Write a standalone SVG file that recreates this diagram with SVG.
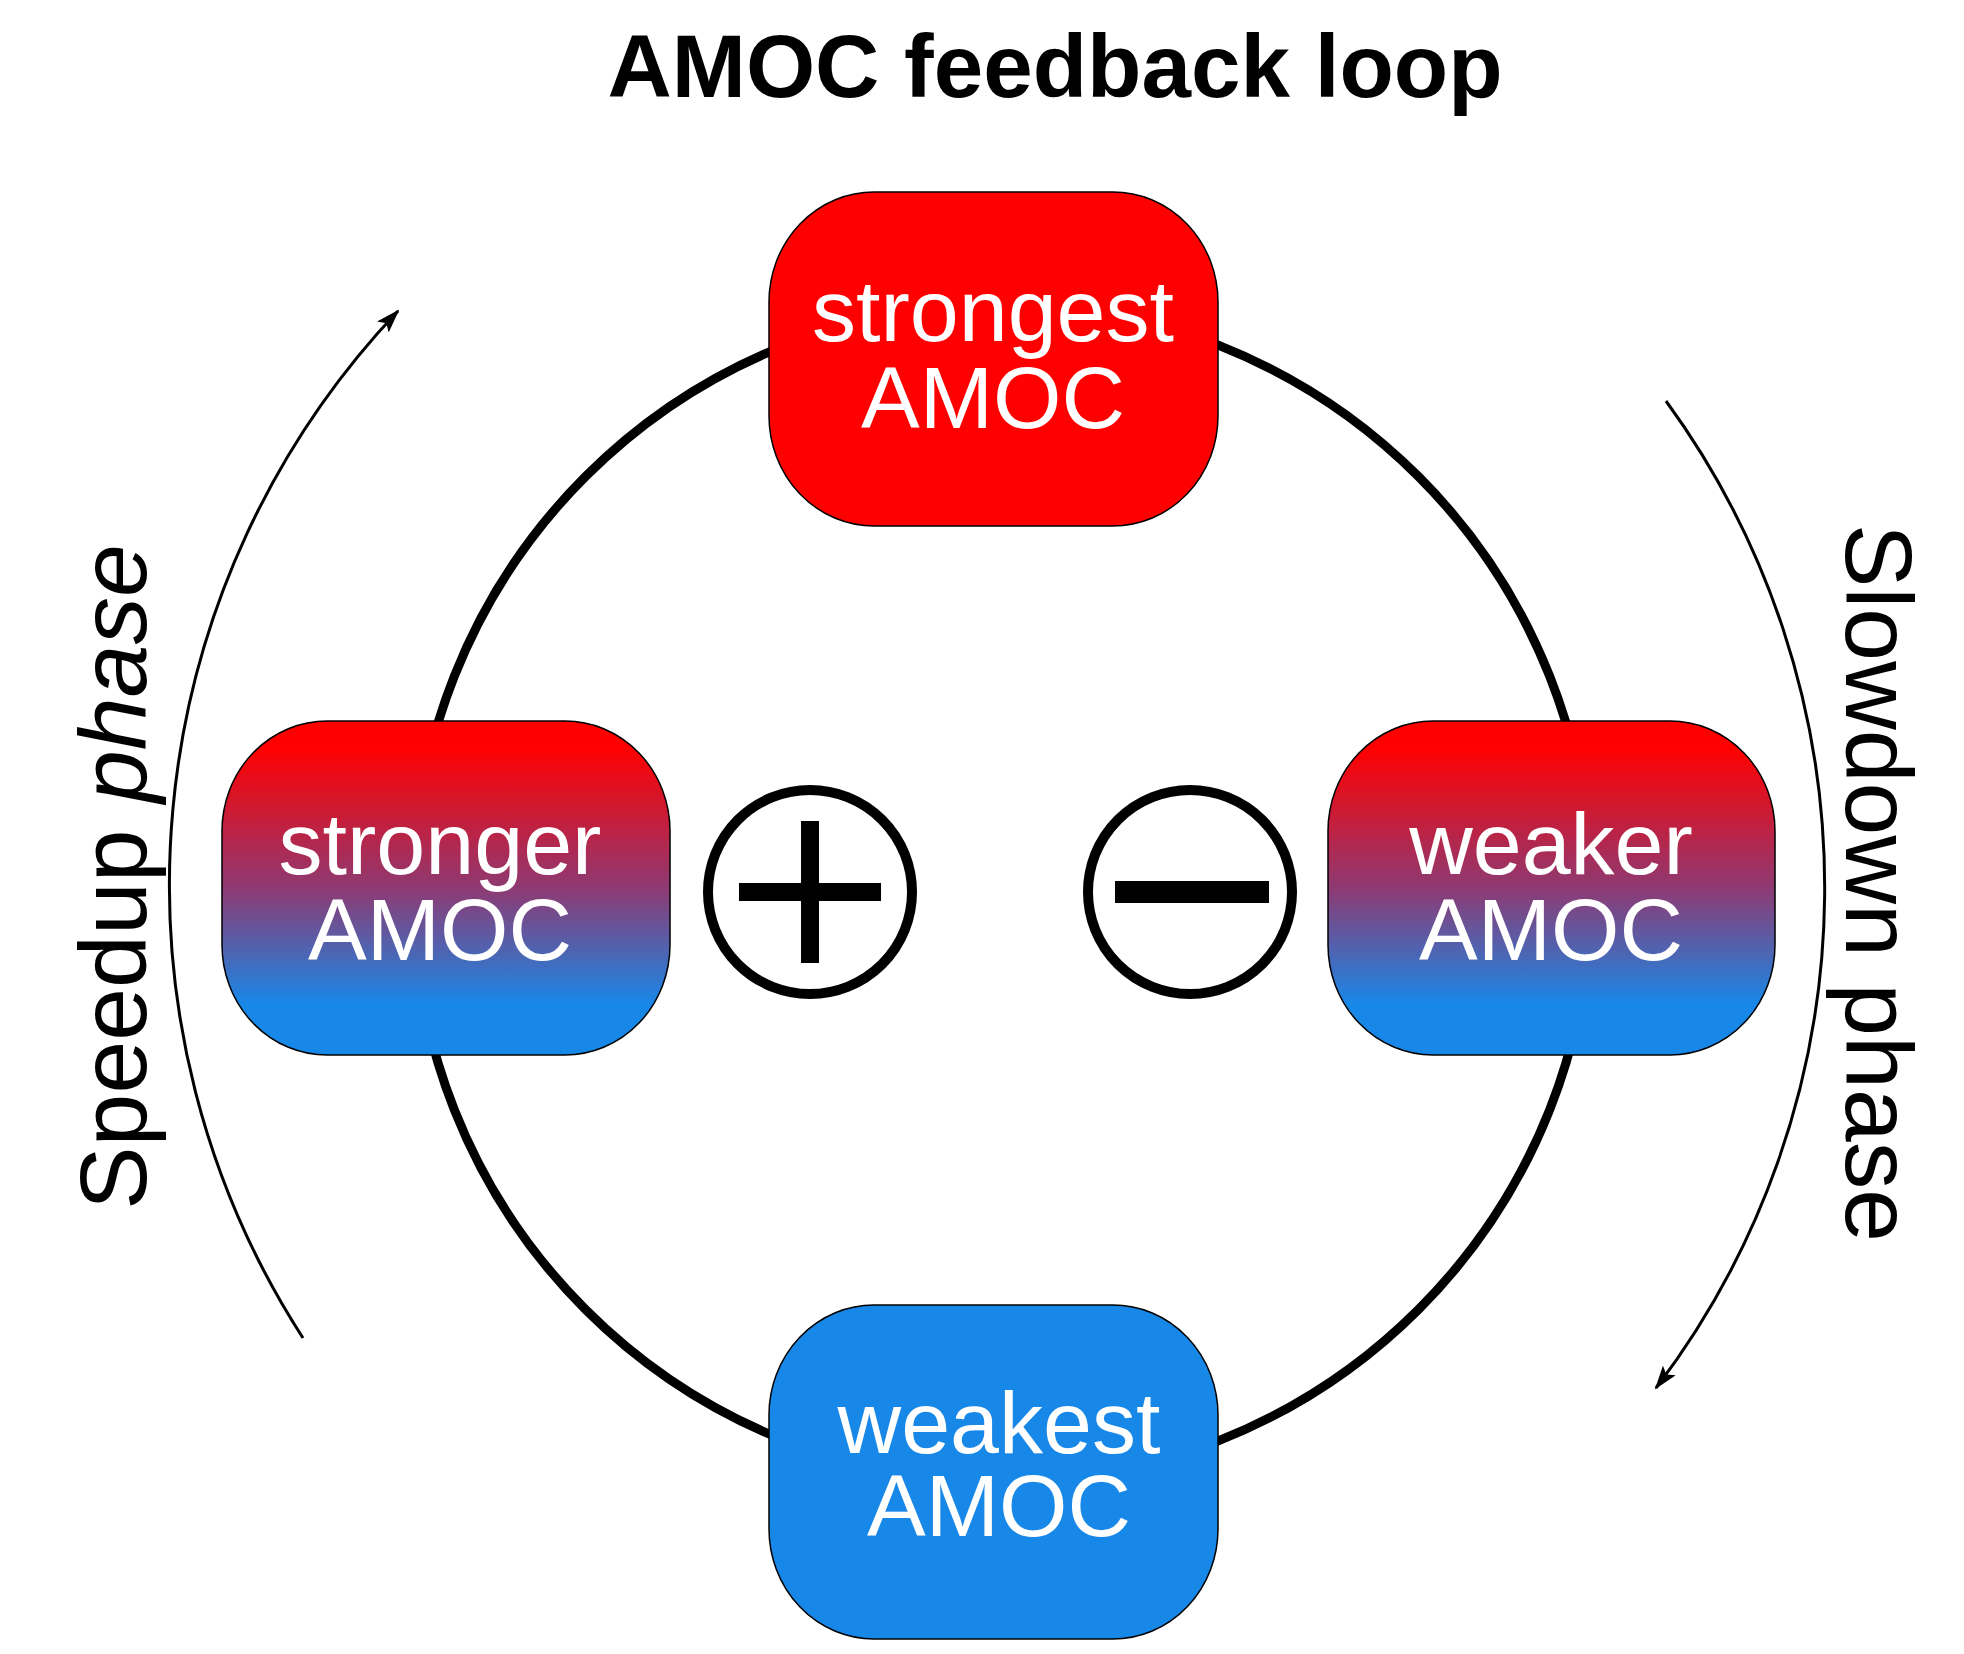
<svg xmlns="http://www.w3.org/2000/svg" width="1964" height="1654" viewBox="0 0 1964 1654">
<style>
.box{stroke:#000;stroke-width:1.5}
.lbl{font-family:"Liberation Sans",Arial,sans-serif;font-size:88px;fill:#fff;text-anchor:middle}
.side{font-family:"Liberation Sans",Arial,sans-serif;font-size:95px;fill:#000;text-anchor:middle}
</style>
<defs>
<linearGradient id="g" x1="0" y1="0" x2="0" y2="1">
<stop offset="0.08" stop-color="#ff0000"/>
<stop offset="0.5" stop-color="#8e3a72"/>
<stop offset="0.85" stop-color="#1888e8"/>
</linearGradient>
<marker id="ah" markerWidth="24" markerHeight="16" refX="22" refY="8" orient="auto" markerUnits="userSpaceOnUse" viewBox="0 0 24 16">
<path d="M0,0 L24,8 L0,16 L5,8 Z" fill="#000"/>
</marker>
</defs>
<rect width="1964" height="1654" fill="#fff"/>
<text x="1055" y="97" font-family="Liberation Sans,Arial,sans-serif" font-size="89" font-weight="bold" text-anchor="middle">AMOC feedback loop</text>
<g id="connectors">
<circle cx="1002" cy="893" r="589" fill="none" stroke="#000" stroke-width="9"/>
<path d="M303,1338 A835,835 0 0 1 398,311" fill="none" stroke="#000" stroke-width="3" marker-end="url(#ah)"/>
<path d="M1666,401 A826,826 0 0 1 1656,1388" fill="none" stroke="#000" stroke-width="3" marker-end="url(#ah)"/>
</g>
<g id="top"><rect class="box" x="769" y="192" width="449" height="334" rx="105" ry="110" fill="#ff0000"/>
<text class="lbl" x="993" y="341">strongest</text><text class="lbl" x="993" y="428">AMOC</text></g>
<g id="left"><rect class="box" x="222" y="721" width="448" height="334" rx="105" ry="110" fill="url(#g)"/>
<text class="lbl" x="440" y="874">stronger</text><text class="lbl" x="440" y="960">AMOC</text></g>
<g id="right"><rect class="box" x="1328" y="721" width="447" height="334" rx="105" ry="110" fill="url(#g)"/>
<text class="lbl" x="1551" y="874">weaker</text><text class="lbl" x="1551" y="960">AMOC</text></g>
<g id="bottom"><rect class="box" x="769" y="1305" width="449" height="334" rx="105" ry="110" fill="#1888e8"/>
<text class="lbl" x="999" y="1453">weakest</text><text class="lbl" x="999" y="1536">AMOC</text></g>
<g id="plus"><circle cx="810" cy="892" r="102" fill="#fff" stroke="#000" stroke-width="10"/>
<rect x="739" y="883" width="142" height="18"/><rect x="801" y="821" width="18" height="142"/></g>
<g id="minus"><circle cx="1190" cy="892" r="102" fill="#fff" stroke="#000" stroke-width="10"/>
<rect x="1115" y="881" width="154" height="22"/></g>
<text class="side" transform="translate(146,877) rotate(-90)">Speedup <tspan font-style="italic">phase</tspan></text>
<text class="side" transform="translate(1846,883) rotate(90)">Slowdown phase</text>
</svg>
